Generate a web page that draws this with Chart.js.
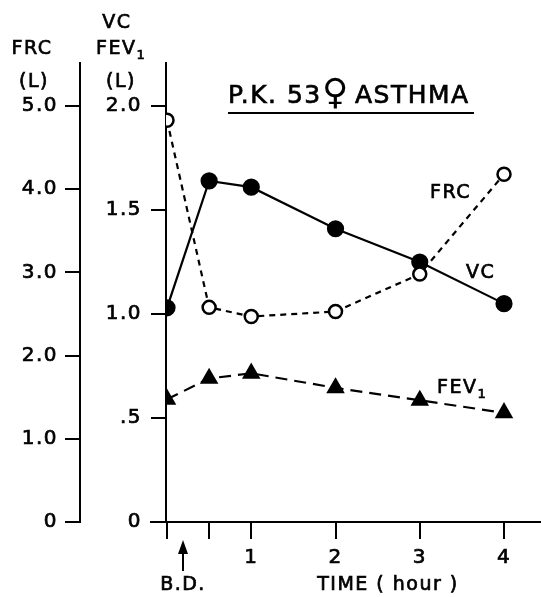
<!DOCTYPE html>
<html>
<head>
<meta charset="utf-8">
<script src="https://cdn.jsdelivr.net/npm/chart.js@4"></script>
<style>
  html, body { margin: 0; padding: 0; background: #fff; }
</style>
</head>
<body>
<canvas id="myChart" width="541" height="597"></canvas>
<script>
// time after B.D. (hours)
const times = [0, 0.5, 1, 2, 3, 4]
// litres
const vcValues = [1.03, 1.64, 1.61, 1.41, 1.25, 1.05]
const frcValues = [4.83, 2.58, 2.47, 2.53, 2.98, 4.18]
const fev1Values = [0.59, 0.69, 0.715, 0.645, 0.585, 0.525]

const timeTicks = [0, 0.5, 1, 2, 3, 4]
const timeTickLabels = ['', '', '1', '2', '3', '4']
const vcTicks = [0, 0.5, 1, 1.5, 2]
const vcTickLabels = ['0', '.5', '1.0', '1.5', '2.0']
const frcTicks = [0, 1, 2, 3, 4, 5]
const frcTickLabels = ['0', '1.0', '2.0', '3.0', '4.0', '5.0']

const FONT = "'DejaVu Sans', sans-serif"
const canvas = document.getElementById('myChart')

function pts(ys) {
    return times.map((t, i) => ({ x: t, y: ys[i] }))
}

function setTicks(list) {
    return scale => { scale.ticks = list.map(v => ({ value: v })) }
}

function fixSize(prop, size) {
    return scale => {
        scale[prop] = size
        scale.paddingLeft = scale.paddingRight = 0
        scale.paddingTop = scale.paddingBottom = 0
    }
}

function text(ctx, str, x, y, size, align) {
    ctx.font = size + 'px ' + FONT
    ctx.textAlign = align || 'left'
    ctx.strokeText(str, x, y)
    ctx.fillText(str, x, y)
    return ctx.measureText(str).width
}

const annotate = {
    id: 'annotate',
    // chart.js keeps some room on the right for the last x label, the plot runs to the edge
    afterLayout(chart) {
        const area = chart.chartArea
        const x = chart.scales.x
        area.right = chart.width
        area.width = area.right - area.left
        x.right = area.right
        x.width = area.width
        x.configure()
    },
    beforeDraw(chart) {
        chart.ctx.letterSpacing = '1.5px'
    },
    afterDraw(chart) {
        const ctx = chart.ctx
        const area = chart.chartArea
        ctx.save()
        ctx.fillStyle = '#000'
        ctx.strokeStyle = '#000'
        ctx.lineWidth = 0.7
        ctx.letterSpacing = '1.5px'
        ctx.textBaseline = 'middle'

        // axis headers
        text(ctx, 'FRC', 32, 49, 19, 'center')
        text(ctx, '(L)', 34, 82, 19, 'center')
        text(ctx, 'VC', 117, 23, 19, 'center')
        let w = text(ctx, 'FEV', 96, 49, 19)
        text(ctx, '1', 96 + w, 56, 13)
        text(ctx, '(L)', 121, 82, 19, 'center')

        // series labels
        text(ctx, 'FRC', 430, 193, 19)
        text(ctx, 'VC', 466, 273, 19)
        w = text(ctx, 'FEV', 437, 388, 19)
        text(ctx, '1', 437 + w, 395, 13)

        // x title and B.D. marker
        text(ctx, 'TIME ( hour )', 388, 585, 19, 'center')
        text(ctx, 'B.D.', 183, 585, 19, 'center')

        // title
        ctx.textBaseline = 'alphabetic'
        text(ctx, 'P.K. 53', 228, 103, 25)
        text(ctx, 'ASTHMA', 355, 103, 25)
        ctx.font = '36px ' + FONT
        ctx.textAlign = 'center'
        ctx.fillText('♀', 336, 104)

        ctx.lineWidth = 2
        ctx.beginPath()
        ctx.moveTo(228, 113)
        ctx.lineTo(474, 113)
        ctx.stroke()

        ctx.beginPath()
        ctx.moveTo(183, 571)
        ctx.lineTo(183, 548)
        ctx.stroke()
        ctx.beginPath()
        ctx.moveTo(183, 540)
        ctx.lineTo(178, 554)
        ctx.lineTo(188, 554)
        ctx.closePath()
        ctx.fill()

        // x axis runs a little past the VC axis
        ctx.beginPath()
        ctx.moveTo(150, area.bottom)
        ctx.lineTo(area.left, area.bottom)
        ctx.stroke()
        ctx.restore()
    }
}

const tickFont = { family: FONT, size: 20 }

const config = {
    type: 'line',
    data: {
        datasets: [{
            label: 'FRC',
            data: pts(frcValues),
            yAxisID: 'yFRC',
            borderColor: '#000',
            borderWidth: 2.2,
            borderDash: [6, 5],
            pointStyle: 'circle',
            pointRadius: 6.5,
            pointBorderWidth: 2.5,
            pointBackgroundColor: '#fff',
            pointBorderColor: '#000'
        }, {
            label: 'VC',
            data: pts(vcValues),
            yAxisID: 'yVC',
            borderColor: '#000',
            borderWidth: 2.2,
            pointStyle: 'circle',
            pointRadius: 7.5,
            pointBackgroundColor: '#000',
            pointBorderColor: '#000'
        }, {
            label: 'FEV1',
            data: pts(fev1Values),
            yAxisID: 'yVC',
            borderColor: '#000',
            borderWidth: 2.2,
            borderDash: [12, 7],
            pointStyle: 'triangle',
            pointRadius: 8.5,
            pointBackgroundColor: '#000',
            pointBorderColor: '#000'
        }]
    },
    options: {
        responsive: false,
        animation: false,
        layout: { padding: { top: 63, left: 0, right: 0, bottom: 0 } },
        plugins: {
            legend: { display: false },
            tooltip: { enabled: false }
        },
        scales: {
            x: {
                type: 'linear',
                min: -0.012,
                max: 4.439,
                afterBuildTicks: setTicks(timeTicks),
                afterFit: fixSize('height', 75),
                grid: { drawOnChartArea: false, tickLength: 17, color: '#000', lineWidth: 2 },
                border: { display: true, color: '#000', width: 2 },
                ticks: {
                    font: tickFont, color: '#000', padding: 7, maxRotation: 0,
                    textStrokeColor: '#000', textStrokeWidth: 0.7,
                    callback: (v, i) => timeTickLabels[i]
                }
            },
            yVC: {
                position: 'left',
                weight: 0,
                min: 0,
                max: 2.207,
                afterBuildTicks: setTicks(vcTicks),
                afterFit: fixSize('width', 86),
                grid: { drawOnChartArea: false, tickLength: 15, color: '#000', lineWidth: 2 },
                border: { display: true, color: '#000', width: 2 },
                ticks: {
                    font: tickFont, color: '#000', padding: 9,
                    textStrokeColor: '#000', textStrokeWidth: 0.7,
                    callback: (v, i) => vcTickLabels[i]
                }
            },
            yFRC: {
                position: 'left',
                weight: 1,
                min: 0,
                max: 5.5175,
                afterBuildTicks: setTicks(frcTicks),
                afterFit: fixSize('width', 80),
                grid: { drawOnChartArea: false, tickLength: 15, color: '#000', lineWidth: 2 },
                border: { display: true, color: '#000', width: 2 },
                ticks: {
                    font: tickFont, color: '#000', padding: 7,
                    textStrokeColor: '#000', textStrokeWidth: 0.7,
                    callback: (v, i) => frcTickLabels[i]
                }
            }
        }
    },
    plugins: [annotate]
}

const myChart = new Chart(canvas, config)
</script>
</body>
</html>
